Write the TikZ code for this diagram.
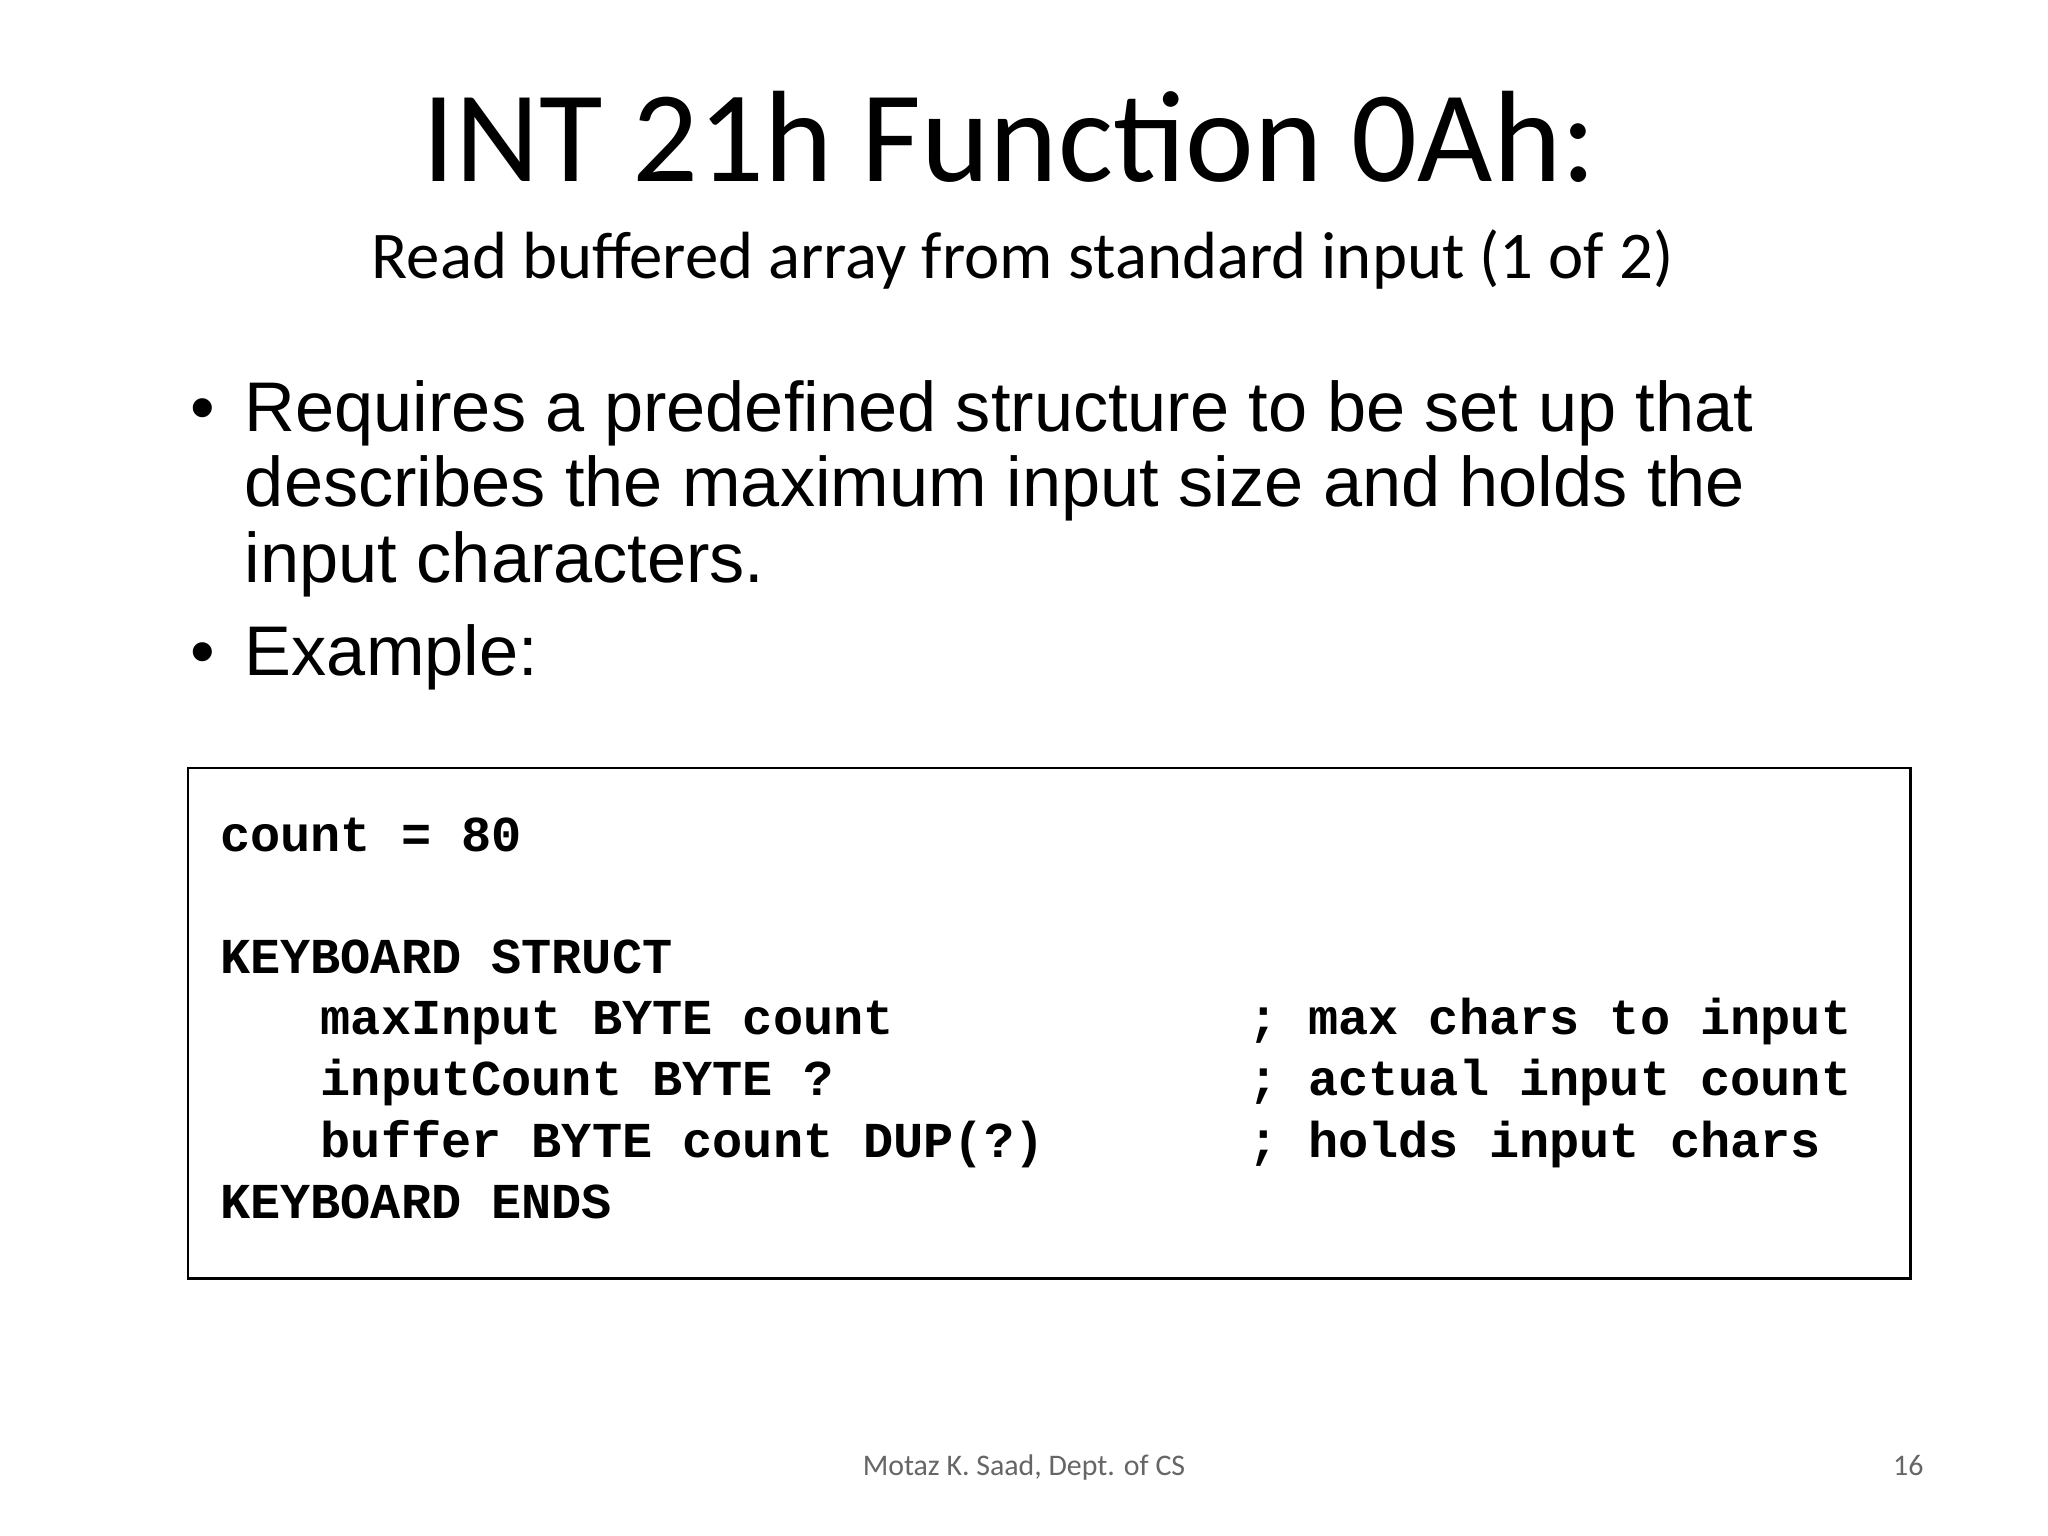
\documentclass[tikz,border=0pt]{standalone}
\usepackage{fontspec}
\setmainfont{Liberation Sans}
\newfontfamily\titlefont{Carlito}
\newfontfamily\codefont{Liberation Mono}
\begin{document}
\begin{tikzpicture}[x=0.01306cm,y=-0.01306cm,
  code/.style={anchor=base west,inner sep=0pt,font=\codefont\bfseries\fontsize{14.3}{16}\selectfont},
  bul/.style={anchor=base west,inner sep=0pt,font=\fontsize{20}{24}\selectfont}]
\useasboundingbox (0,0) rectangle (1568,1176);
\fill[white] (0,0) rectangle (1568,1176);
\node[anchor=base,inner sep=0pt,font=\titlefont\fontsize{37}{40}\selectfont] (title) at (773,139) {INT 21h Function 0Ah:};
\node[anchor=base,inner sep=0pt,font=\titlefont\fontsize{19}{22}\selectfont] (sub) at (783,213) {Read buffered array from standard input (1 of 2)};
\node[bul] (d1) at (145,330) {•};
\node[bul] (b1) at (187,330) {Requires a predefined structure to be set up that};
\node[bul] (b2) at (187,388) {describes the maximum input size and holds the};
\node[bul] (b3) at (187,446) {input characters.};
\node[bul] (d2) at (145,517) {•};
\node[bul] (b4) at (187,517) {Example:};
\draw[line width=0.8pt] (144,588) rectangle (1463,979);
\node[code] (c1) at (168,652) {count = 80};
\node[code] (c2) at (168,745) {KEYBOARD STRUCT};
\node[code] (c3) at (245,792) {maxInput BYTE count};
\node[code] (c4) at (245,839) {inputCount BYTE ?};
\node[code] (c5) at (245,886) {buffer BYTE count DUP(?)};
\node[code] (c6) at (168,933) {KEYBOARD ENDS};
\node[code] (m1) at (955,792) {; max chars to input};
\node[code] (m2) at (955,839) {; actual input count};
\node[code] (m3) at (955,886) {; holds input chars};
\node[anchor=base,inner sep=0pt,text=black!60,font=\titlefont\fontsize{8.5}{10}\selectfont] (foot) at (784,1130) {Motaz K. Saad, Dept. of CS};
\node[anchor=base,inner sep=0pt,text=black!60,font=\titlefont\fontsize{8.5}{10}\selectfont] (pg) at (1461,1130) {16};
\end{tikzpicture}
\end{document}
